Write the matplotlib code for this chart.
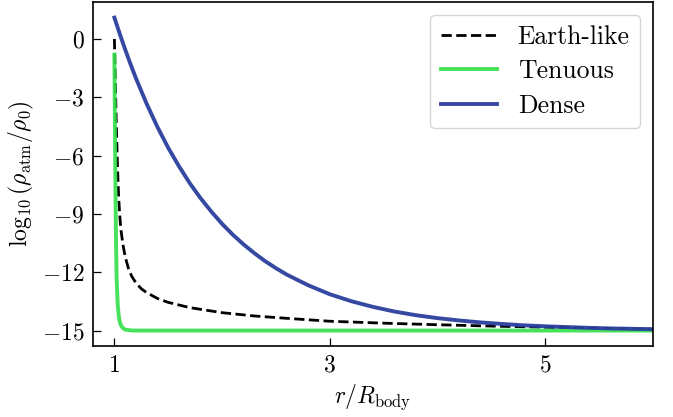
import matplotlib
matplotlib.use("Agg")
import matplotlib.pyplot as plt

plt.rcParams["font.family"] = "serif"
plt.rcParams["font.serif"] = ["cmr10"]
plt.rcParams["mathtext.fontset"] = "cm"
plt.rcParams["axes.formatter.use_mathtext"] = True
plt.rcParams["font.size"] = 17

# log10 density profiles vs. radius (in body radii)
r_earth = [1.0, 1.01, 1.02, 1.03, 1.04, 1.05, 1.06, 1.08, 1.10, 1.13, 1.16, 1.2,
           1.25, 1.3, 1.4, 1.5, 1.7, 2.0, 2.3, 2.6, 3.0, 3.5, 4.0, 4.5, 5.0, 5.5, 6.0]
rho_earth = [0.0, -2.6, -4.9, -6.8, -8.2, -9.1, -9.8, -10.6, -11.2, -11.8, -12.2, -12.55,
             -12.85, -13.05, -13.35, -13.55, -13.82, -14.08, -14.25, -14.37, -14.52,
             -14.62, -14.70, -14.77, -14.83, -14.88, -14.93]

r_tenuous = [1.0, 1.005, 1.01, 1.015, 1.02, 1.03, 1.04, 1.05, 1.06, 1.08, 1.10,
             1.15, 1.2, 2.0, 3.0, 4.0, 5.0, 6.0]
rho_tenuous = [-0.8, -4.8, -7.8, -10.4, -12.2, -13.6, -14.25, -14.55, -14.72, -14.88,
               -14.95, -14.99, -15.0, -15.0, -15.0, -15.0, -15.0, -15.0]

r_dense = [1.0, 1.05, 1.1, 1.15, 1.2, 1.3, 1.4, 1.5, 1.6, 1.7, 1.8, 1.9, 2.0, 2.1,
           2.2, 2.3, 2.4, 2.5, 2.6, 2.8, 3.0, 3.2, 3.4, 3.6, 3.8, 4.0, 4.2, 4.4,
           4.6, 4.8, 5.0, 5.2, 5.4, 5.6, 5.8, 6.0]
rho_dense = [1.10, 0.26, -0.54, -1.30, -2.02, -3.34, -4.53, -5.60, -6.55, -7.42,
             -8.19, -8.88, -9.51, -10.07, -10.57, -11.02, -11.43, -11.79, -12.12,
             -12.67, -13.13, -13.49, -13.78, -14.02, -14.21, -14.36, -14.48, -14.58,
             -14.66, -14.73, -14.78, -14.82, -14.86, -14.89, -14.91, -14.93]

xticks = [1, 3, 5]
yticks = [0, -3, -6, -9, -12, -15]

fig = plt.figure(figsize=(6.73, 4.17), dpi=100)
ax = fig.add_axes([0.138, 0.170, 0.832, 0.825])

ax.plot(r_earth, rho_earth, color="black", ls="--", lw=2.0, label="Earth-like")
ax.plot(r_tenuous, rho_tenuous, color="#33df4a", lw=2.8, alpha=0.9, label="Tenuous")
ax.plot(r_dense, rho_dense, color="#2a3f9e", lw=2.8, alpha=0.95, label="Dense")

ax.set_xlim(0.8, 6.0)
ax.set_ylim(-15.8, 1.9)
ax.set_xticks(xticks)
ax.set_yticks(yticks)
ax.tick_params(direction="in", length=6, width=0.9, labelsize=17, pad=6)
for s in ax.spines.values():
    s.set_linewidth(1.2)

ax.set_xlabel(r"$r/R_{\rm body}$", fontsize=17, labelpad=4)
ax.set_ylabel(r"$\log_{10}(\rho_{\rm atm}/\rho_0)$", fontsize=17, labelpad=4)

ax.legend(loc="upper right", fontsize=18.5, handlelength=2.2, borderaxespad=0.5,
          labelspacing=0.42, handletextpad=0.8)

fig.savefig("out.png", dpi=100)
